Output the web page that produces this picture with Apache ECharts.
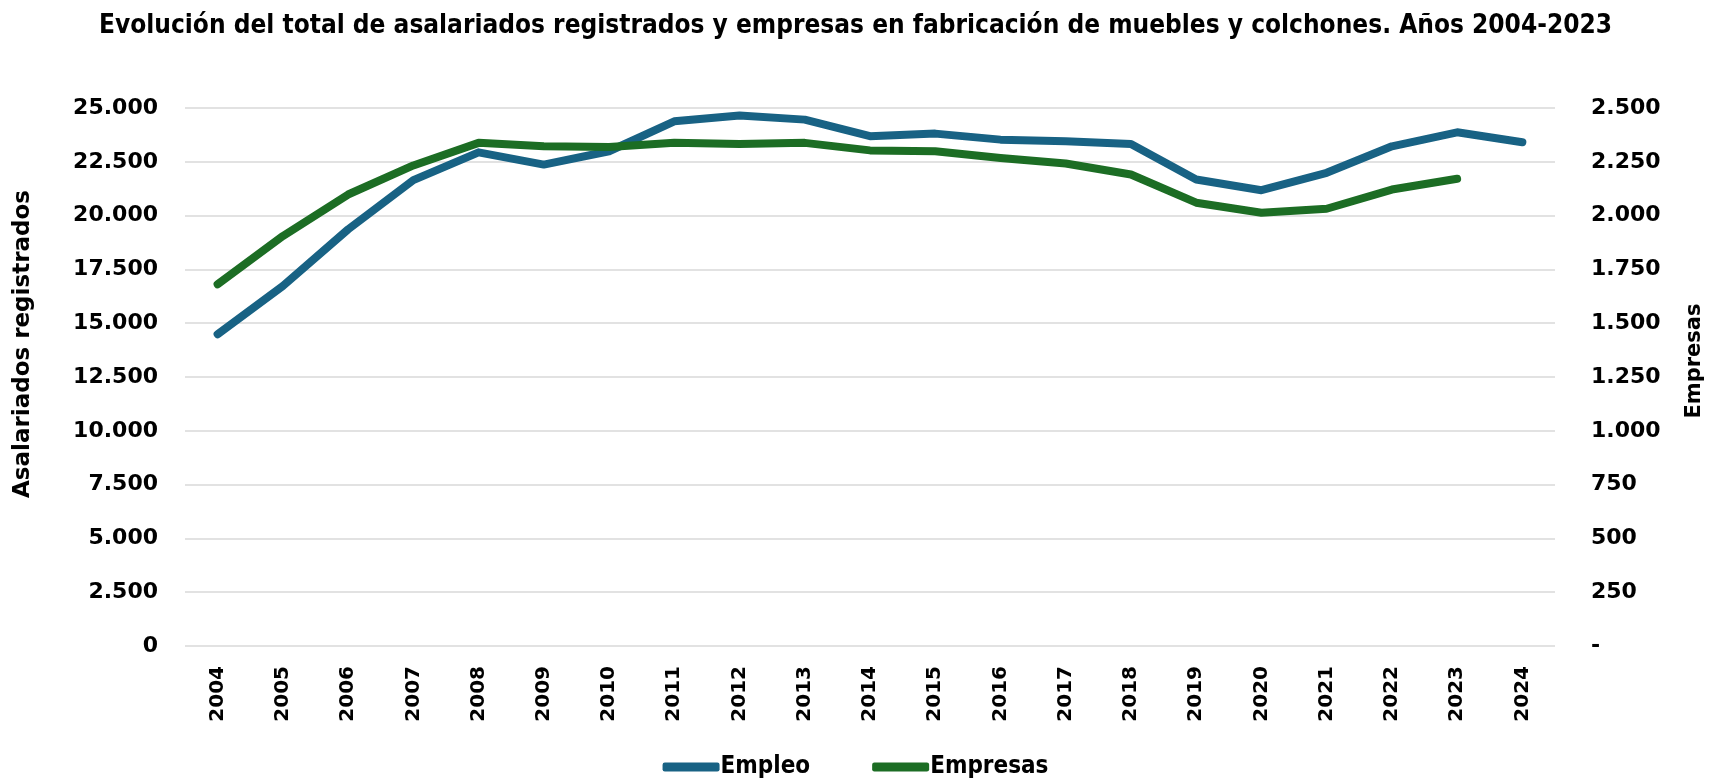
<!DOCTYPE html>
<html>
<head>
<meta charset="utf-8">
<script src="https://cdn.jsdelivr.net/npm/echarts@6/dist/echarts.min.js"></script>
<style>
  html, body { margin: 0; padding: 0; background: #fff; }
  #chart { width: 1711px; height: 780px; }
</style>
</head>
<body>
<div id="chart"></div>
<script>
// años
var years = ['2004', '2005', '2006', '2007', '2008', '2009', '2010', '2011', '2012', '2013',
  '2014', '2015', '2016', '2017', '2018', '2019', '2020', '2021', '2022', '2023', '2024'];
// asalariados registrados (eje izquierdo)
var empleo = [14490, 16730, 19360, 21650, 22940, 22370, 22990, 24380, 24650, 24460,
  23690, 23810, 23530, 23450, 23330, 21680, 21180, 21990, 23220, 23870, 23410];
// empresas (eje derecho), 2024 sin dato
var empresas = [1681, 1905, 2098, 2233, 2338, 2322, 2319, 2338, 2333, 2338,
  2303, 2299, 2268, 2242, 2191, 2060, 2013, 2032, 2121, 2171, null];

var condensed = '"DejaVu Sans Condensed", "Liberation Sans Narrow", "DejaVu Sans", sans-serif';
var labelFont = '"DejaVu Sans", sans-serif';

function miles(v) {
  return String(v).replace(/\B(?=(\d{3})+(?!\d))/g, '.');
}

var chart = echarts.init(document.getElementById('chart'));
var option = {
  animation: false,
  title: {
    text: 'Evolución del total de asalariados registrados y empresas en fabricación de muebles y colchones. Años 2004-2023',
    left: 'center',
    top: 8,
    textStyle: { fontFamily: condensed, fontWeight: 'bold', fontSize: 26, color: '#000' }
  },
  legend: {
    top: 750,
    left: 'center',
    itemGap: 62,
    itemWidth: 57,
    itemHeight: 9,
    icon: 'roundRect',
    textStyle: { fontFamily: condensed, fontWeight: 'bold', fontSize: 24, color: '#000', padding: [0, 0, 0, -4] },
    data: ['Empleo', 'Empresas']
  },
  grid: { left: 185, right: 156, top: 108, bottom: 134, outerBoundsMode: 'none' },
  xAxis: {
    type: 'category',
    data: years,
    boundaryGap: true,
    axisLine: { show: false },
    axisTick: { show: false },
    axisLabel: {
      rotate: 90,
      margin: 20,
      fontFamily: labelFont,
      fontWeight: 'bold',
      fontSize: 20,
      color: '#000'
    }
  },
  yAxis: [{
    type: 'value',
    min: 0,
    max: 25000,
    interval: 2500,
    name: 'Asalariados registrados',
    nameLocation: 'middle',
    nameGap: 150,
    nameRotate: 90,
    nameTextStyle: { fontFamily: labelFont, fontWeight: 'bold', fontSize: 23, color: '#000', padding: [0, 0, 0, 66] },
    axisLine: { show: false },
    axisTick: { show: false },
    splitLine: { lineStyle: { color: '#d9d9d9', width: 1.5 } },
    axisLabel: {
      margin: 27,
      fontFamily: labelFont,
      fontWeight: 'bold',
      fontSize: 22,
      color: '#000',
      formatter: function (v) { return miles(v); }
    }
  }, {
    type: 'value',
    min: 0,
    max: 2500,
    interval: 250,
    name: 'Empresas',
    nameLocation: 'middle',
    nameGap: 129,
    nameRotate: 90,
    nameTextStyle: { fontFamily: labelFont, fontWeight: 'bold', fontSize: 21, color: '#000', padding: [0, 0, 0, 32] },
    axisLine: { show: false },
    axisTick: { show: false },
    splitLine: { show: false },
    axisLabel: {
      margin: 36,
      fontFamily: labelFont,
      fontWeight: 'bold',
      fontSize: 22,
      color: '#000',
      formatter: function (v) { return v === 0 ? '-' : miles(v); }
    }
  }],
  series: [{
    name: 'Empleo',
    type: 'line',
    yAxisIndex: 0,
    data: empleo,
    symbol: 'none',
    color: '#186284',
    lineStyle: { width: 8, cap: 'round', join: 'round' }
  }, {
    name: 'Empresas',
    type: 'line',
    yAxisIndex: 1,
    data: empresas,
    symbol: 'none',
    color: '#1c6d24',
    lineStyle: { width: 8, cap: 'round', join: 'round' }
  }]
};
chart.setOption(option);
</script>
</body>
</html>
